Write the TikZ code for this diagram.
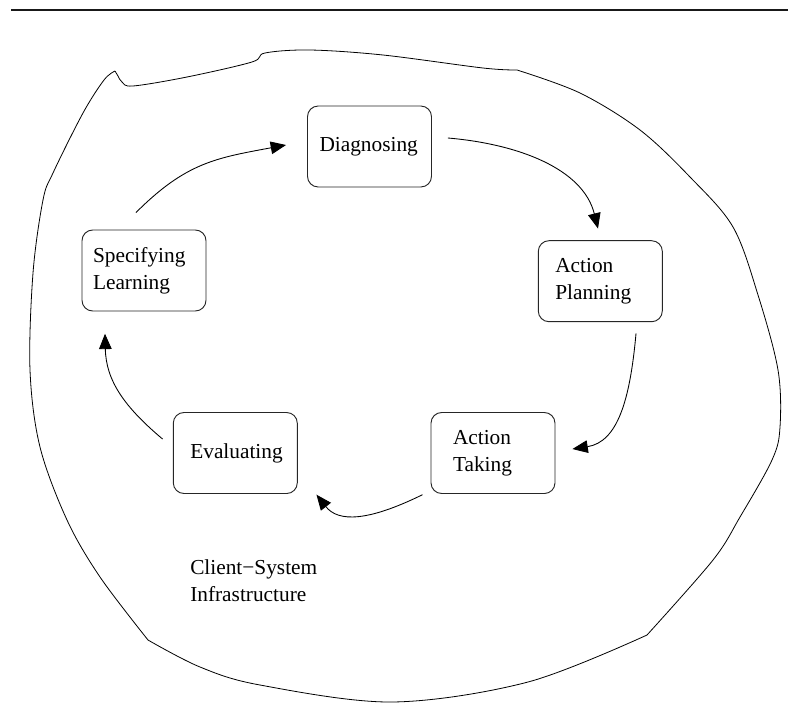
\documentclass[tikz,border=0pt]{standalone}
\usepackage{fontspec}
\setmainfont{Liberation Serif}
\usetikzlibrary{arrows.meta,calc}
\newcommand\stagefont{\fontsize{16}{20.25}\selectfont}
\tikzset{
  stagebox/.style={draw=black!85, line width=0.7pt, rounded corners=8pt,
    minimum height=60.75pt, text width=93pt, inner xsep=0pt, inner ysep=0pt,
    align=left, font=\stagefont},
  flow/.style={line width=0.65pt, -{Triangle[length=11.5pt,width=9.5pt]}},
  blob/.style={line width=0.6pt},
}
\begin{document}
\begin{tikzpicture}[x=0.75pt,y=-0.75pt]
\useasboundingbox (0,0) rectangle (788,711);
% top rule
\coordinate (ruleL) at (11,10);
\coordinate (ruleR) at (788,10);
\draw[line width=1.5pt, black!90] (ruleL) -- (ruleR);
% outer blob
\draw[blob]
  plot[smooth, tension=0.55] coordinates {(115,71) (104,80) (83,113) (53,173) (43,200) (33,273) (30,370) (40,447) (67,520) (100,577) (148,640)}
  -- plot[smooth, tension=0.55] coordinates {(148,640) (200,667) (260,685) (392,702) (528,682) (647,635)}
  -- plot[smooth, tension=0.55] coordinates {(647,635) (713,560) (740,517) (772,460) (780,427) (778,370) (758,295) (733,227) (690,177) (640,130) (580,93) (517,70)}
  -- plot[smooth, tension=0.55] coordinates {(517,70) (483,68) (383,55) (310,50) (265,53) (252,62) (187,77) (133,86) (122,82) (118,76) (115,71)};
% stages
\node[stagebox] (diag) at (369.5,146.5) {\hspace*{9pt}Diagnosing};
\node[stagebox] (plan) at (600.3,281.2) {\hspace*{12.75pt}Action\\\hspace*{12.75pt}Planning};
\node[stagebox] (take) at (493,453) {\hspace*{16.5pt}Action\\\hspace*{16.5pt}Taking};
\node[stagebox] (eval) at (235.3,453) {\hspace*{12.75pt}Evaluating};
\node[stagebox] (spec) at (144,270.5) {\hspace*{8.25pt}Specifying\\\hspace*{8.25pt}Learning};
% infrastructure label (base = baseline of last line)
\node[anchor=base west, align=left, inner sep=0pt, font=\stagefont] (infra) at (190,601) {Client−System\\Infrastructure};
% cycle arrows
\draw[flow] ($(spec.north)+(-8,-17)$) .. controls +(50,-50) and +(-70,13) .. ($(diag.west)+(-21,-1.5)$);
\draw[flow] ($(diag.east)+(16,-8.5)$) .. controls +(70,6) and +(-15,-60) .. ($(plan.north)+(-2.3,-11.7)$);
\draw[flow] ($(plan.south)+(35.7,11.3)$) .. controls +(-6,67) and +(45,-7) .. ($(take.east)+(17,-4)$);
\draw[flow] ($(take.south west)+(-8,0.7)$) .. controls +(-55,27) and +(21.7,27.6) .. ($(eval.south east)+(18.7,0.7)$);
\draw[flow] ($(eval.west)+(-10.3,-14)$) .. controls +(-38,-32) and +(1,47) .. ($(spec.south)+(-39,22.3)$);
\end{tikzpicture}
\end{document}
